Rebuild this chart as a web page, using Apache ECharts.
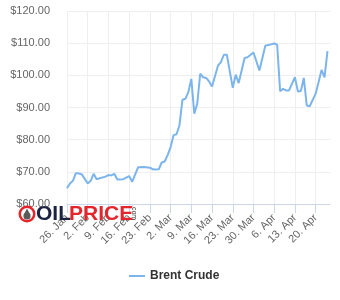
<!DOCTYPE html>
<html>
<head>
<meta charset="utf-8">
<script src="https://cdn.jsdelivr.net/npm/echarts@6/dist/echarts.min.js"></script>
<style>
html,body{margin:0;padding:0;background:#fff;}
#c{width:340px;height:300px;}
</style>
</head>
<body>
<div id="c"></div>
<script>
// ---- data ----
var startDate = '2026-01-26';
var dates = [
 '2026-01-26','2026-01-27','2026-01-28','2026-01-29','2026-01-30','2026-01-31',
 '2026-02-02','2026-02-03','2026-02-04','2026-02-05','2026-02-06','2026-02-08',
 '2026-02-09','2026-02-10','2026-02-11','2026-02-12','2026-02-14',
 '2026-02-16','2026-02-17','2026-02-19','2026-02-21',
 '2026-02-23','2026-02-24','2026-02-25','2026-02-26','2026-02-27','2026-02-28','2026-03-01',
 '2026-03-02','2026-03-03','2026-03-04','2026-03-05','2026-03-06','2026-03-07','2026-03-08',
 '2026-03-09','2026-03-10','2026-03-11','2026-03-12','2026-03-13','2026-03-14','2026-03-15',
 '2026-03-16','2026-03-18','2026-03-19','2026-03-20','2026-03-21',
 '2026-03-23','2026-03-24','2026-03-25','2026-03-27','2026-03-28',
 '2026-03-30','2026-04-01','2026-04-03','2026-04-04',
 '2026-04-06','2026-04-07','2026-04-08','2026-04-09','2026-04-10','2026-04-11',
 '2026-04-13','2026-04-14','2026-04-15','2026-04-16','2026-04-17','2026-04-18',
 '2026-04-20','2026-04-21','2026-04-22','2026-04-23','2026-04-24'
];
var brent = [
 64.9,66.4,67.2,69.6,69.5,69.2,
 66.4,67.2,69.4,67.7,68.0,68.5,
 69.0,68.9,69.4,67.6,67.7,
 68.7,66.9,71.4,71.5,
 71.3,70.8,70.7,70.8,72.9,73.2,75.2,
 77.7,81.4,81.7,84.5,92.4,92.7,94.8,
 98.9,88.1,91.2,100.5,99.4,99.2,98.1,
 96.5,103.0,104.1,106.4,106.4,
 96.1,100.2,97.6,105.4,105.6,
 107.1,101.5,109.2,109.4,
 109.9,109.5,95.1,95.8,95.3,95.3,
 99.4,95.0,95.1,99.2,90.6,90.4,
 94.3,97.9,101.7,99.4,107.5
];
var tickLabels = ['26. Jan','2. Feb','9. Feb','16. Feb','23. Feb','2. Mar','9. Mar','16. Mar','23. Mar','30. Mar','6. Apr','13. Apr','20. Apr'];
var seriesName = 'Brent Crude';
var yMin = 60, yMax = 120, yStep = 10;

// ---- build ----
var DAY = 86400000;
var t0 = Date.parse(startDate);
var points = dates.map(function(d, i){ return [(Date.parse(d) - t0) / DAY, brent[i]]; });
var tickVals = tickLabels.map(function(_, i){ return i * 7; });

var FONT = '"Liberation Sans", Arial, sans-serif';
var chart = echarts.init(document.getElementById('c'), null, {renderer: 'canvas'});
chart.setOption({
  animation: false,
  backgroundColor: '#ffffff',
  textStyle: {fontFamily: FONT},
  grid: {left: 67, right: 10, top: 11, bottom: 96, containLabel: false},
  xAxis: {
    type: 'value',
    min: 0,
    max: 88.85,
    interval: 7,
    axisLine: {show: true, lineStyle: {color: '#ccd6eb', width: 1}},
    axisTick: {show: true, length: 9, lineStyle: {color: '#ccd6eb'}, customValues: tickVals},
    splitLine: {show: true, lineStyle: {color: '#efefef', width: 1}},
    axisLabel: {
      customValues: tickVals,
      rotate: 45,
      margin: 12,
      color: '#666666',
      fontSize: 11,
      fontFamily: FONT,
      formatter: function(v){ var i = Math.round(v / 7); return tickLabels[i] || ''; }
    }
  },
  yAxis: {
    type: 'value',
    min: yMin, max: yMax, interval: yStep,
    axisLine: {show: false},
    axisTick: {show: false},
    splitLine: {show: true, lineStyle: {color: '#efefef', width: 1}},
    axisLabel: {
      margin: 17, color: '#666666', fontSize: 11, fontFamily: FONT,
      formatter: function(v){ return '$' + v.toFixed(2); }
    }
  },
  legend: {
    show: true,
    left: 124, top: 265,
    icon: 'rect',
    itemWidth: 16, itemHeight: 2,
    itemGap: 8,
    textStyle: {color: '#333333', fontSize: 12, fontWeight: 'bold', fontFamily: FONT},
    data: [seriesName]
  },
  series: [{
    name: seriesName,
    type: 'line',
    data: points,
    symbol: 'none',
    showSymbol: false,
    lineStyle: {color: '#7cb5ec', width: 2},
    itemStyle: {color: '#7cb5ec'},
    z: 3
  }],
  graphic: [
    {type: 'circle', shape: {cx: 27, cy: 214, r: 8.5}, style: {fill: '#e4252b'}, z: 100},
    {type: 'circle', shape: {cx: 27, cy: 214, r: 6}, style: {fill: '#ffffff'}, z: 101},
    {type: 'circle', shape: {cx: 27, cy: 216, r: 3.6}, style: {fill: '#5a5a5a'}, z: 102},
    {type: 'polygon', shape: {points: [[27, 208.5], [23.7, 214.8], [30.3, 214.8]]}, style: {fill: '#5a5a5a'}, z: 102},
    {type: 'text', x: 36, y: 214, z: 100,
      style: {text: 'OIL', fill: '#1c2340', font: 'bold 21px ' + FONT, align: 'left', verticalAlign: 'middle'}},
    {type: 'text', x: 69, y: 214, z: 100,
      style: {text: 'PRICE', fill: '#e4252b', font: 'bold 21px ' + FONT, align: 'left', verticalAlign: 'middle'}},
    {type: 'text', x: 134, y: 205, rotation: -Math.PI / 2, z: 100,
      style: {text: '.com', fill: '#333333', font: '7px ' + FONT, align: 'left', verticalAlign: 'middle'}}
  ]
});
</script>
</body>
</html>
